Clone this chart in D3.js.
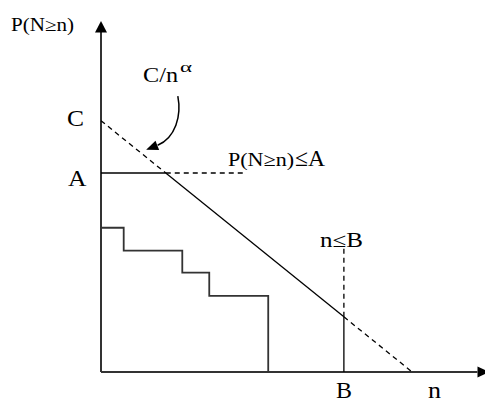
<!DOCTYPE html>
<html><head><meta charset="utf-8">
<script src="https://cdn.jsdelivr.net/npm/d3@7"></script>
<style>html,body{margin:0;padding:0;background:#fff;}svg{display:block;}text{font-family:"Liberation Serif","Times New Roman",serif;fill:#000;}</style>
</head><body><svg id="c" width="485" height="403"></svg>
<script>
// Schematic values (abstract units, x: n, y: P(N>=n))
const axisMax = [100, 100];           // [x, y] extent of axes
const powerLaw = { C: 71.6, zeroAt: 80.2 };   // dashed/solid line C/n^alpha
const boundA = 56.7, boundB = 62.6;
const boundAEnd = 37.1;               // end of dashed A line
const boundBTop = 35.3;               // top of dashed B line
const stepX = [0, 5.85, 20.95, 27.9, 43.1];
const stepY = [41.1, 34.6, 28.3, 21.7, 21.7];
const labels = ["P(N≥n)", "C/n", "α", "C", "A", "P(N≥n)", "≤A", "n≤B", "B", "n"];
const callout = [[19.8, 78.6], [20.8, 73.0], [19.2, 66.8], [14.6, 64.6]]; // curved arrow control pts

const svg = d3.select("#c");
const x = d3.scaleLinear().domain([0, axisMax[0]]).range([101, 489]);
const y = d3.scaleLinear().domain([0, axisMax[1]]).range([372, 21]);
const f = n => powerLaw.C * (1 - n / powerLaw.zeroAt);
const xCross = powerLaw.zeroAt * (1 - boundA / powerLaw.C);
const line = d3.line().x(d => x(d[0])).y(d => y(d[1]));
const dash = "5,4";

// axes
svg.append("path").attr("d", line([[0, 0], [0, axisMax[1] - 3]])).attr("stroke", "#333").attr("stroke-width", 2).attr("fill", "none");
svg.append("path").attr("d", line([[0, 0], [axisMax[0] - 3, 0]])).attr("stroke", "#333").attr("stroke-width", 2).attr("fill", "none");
svg.append("path").attr("d", `M${x(0)},${y(axisMax[1])} L${x(0) - 6},${y(axisMax[1]) + 11.5} L${x(0) + 6},${y(axisMax[1]) + 11.5}Z`).attr("fill", "#000");
svg.append("path").attr("d", `M${x(axisMax[0])},${y(0)} L${x(axisMax[0]) - 11.5},${y(0) - 5.5} L${x(axisMax[0]) - 11.5},${y(0) + 5.5}Z`).attr("fill", "#000");

// step curve (empirical)
const stepPts = stepX.map((v, i) => [v, stepY[i]]).concat([[stepX[stepX.length - 1], 0]]);
svg.append("path").attr("d", d3.line().curve(d3.curveStepAfter).x(d => x(d[0])).y(d => y(d[1]))(stepPts))
  .attr("stroke", "#333").attr("stroke-width", 1.8).attr("fill", "none");

// power law line
const sw = 1.3;
svg.append("path").attr("d", line([[0, powerLaw.C], [xCross, boundA]])).attr("stroke", "#000").attr("stroke-width", sw).attr("stroke-dasharray", dash).attr("fill", "none");
svg.append("path").attr("d", line([[xCross, boundA], [boundB, f(boundB)]])).attr("stroke", "#000").attr("stroke-width", sw).attr("fill", "none");
svg.append("path").attr("d", line([[boundB, f(boundB)], [powerLaw.zeroAt, 0]])).attr("stroke", "#000").attr("stroke-width", sw).attr("stroke-dasharray", dash).attr("fill", "none");

// A bound
svg.append("path").attr("d", line([[0, boundA], [xCross, boundA]])).attr("stroke", "#000").attr("stroke-width", sw).attr("fill", "none");
svg.append("path").attr("d", line([[xCross, boundA], [boundAEnd, boundA]])).attr("stroke", "#000").attr("stroke-width", sw).attr("stroke-dasharray", dash).attr("fill", "none");
// B bound
svg.append("path").attr("d", line([[boundB, 0], [boundB, f(boundB)]])).attr("stroke", "#000").attr("stroke-width", sw).attr("fill", "none");
svg.append("path").attr("d", line([[boundB, f(boundB)], [boundB, boundBTop]])).attr("stroke", "#000").attr("stroke-width", sw).attr("stroke-dasharray", dash).attr("fill", "none");

// curved callout arrow
const cp = callout.map(d => [x(d[0]), y(d[1])]);
svg.append("path").attr("d", `M${cp[0]} C${cp[1]} ${cp[2]} ${cp[3]}`).attr("stroke", "#000").attr("stroke-width", 1.5).attr("fill", "none");
{
  const tip = [cp[3][0] - 11.5, cp[3][1] + 4.5];
  const dx = tip[0] - cp[3][0], dy = tip[1] - cp[3][1];
  const L = Math.hypot(dx, dy), ux = dx / L, uy = dy / L;
  const b = [tip[0] - 12 * ux, tip[1] - 12 * uy];
  svg.append("path").attr("d", `M${tip} L${b[0] + 5 * uy},${b[1] - 5 * ux} L${b[0] - 5 * uy},${b[1] + 5 * ux}Z`).attr("fill", "#000");
}

// labels
function txt(t, px, py, size, len) {
  const e = svg.append("text").attr("x", px).attr("y", py).attr("font-size", size).text(t);
  if (len) e.attr("textLength", len).attr("lengthAdjust", "spacingAndGlyphs");
  return e;
}
txt(labels[0], 11, 31, 18, 63);
txt(labels[1], 143, 82, 21, 35);
txt(labels[2], 180, 72, 15, 12);
txt(labels[3], 67, 126, 24, 17);
txt(labels[4], 68, 186, 24, 18.5);
txt(labels[5], 228, 166, 19, 66);
txt(labels[6], 295, 166, 24, 30);
txt(labels[7], 320, 247, 20, 43);
txt(labels[8], 336, 398, 24, 16);
txt(labels[9], 428, 398, 24, 13);
</script></body></html>
